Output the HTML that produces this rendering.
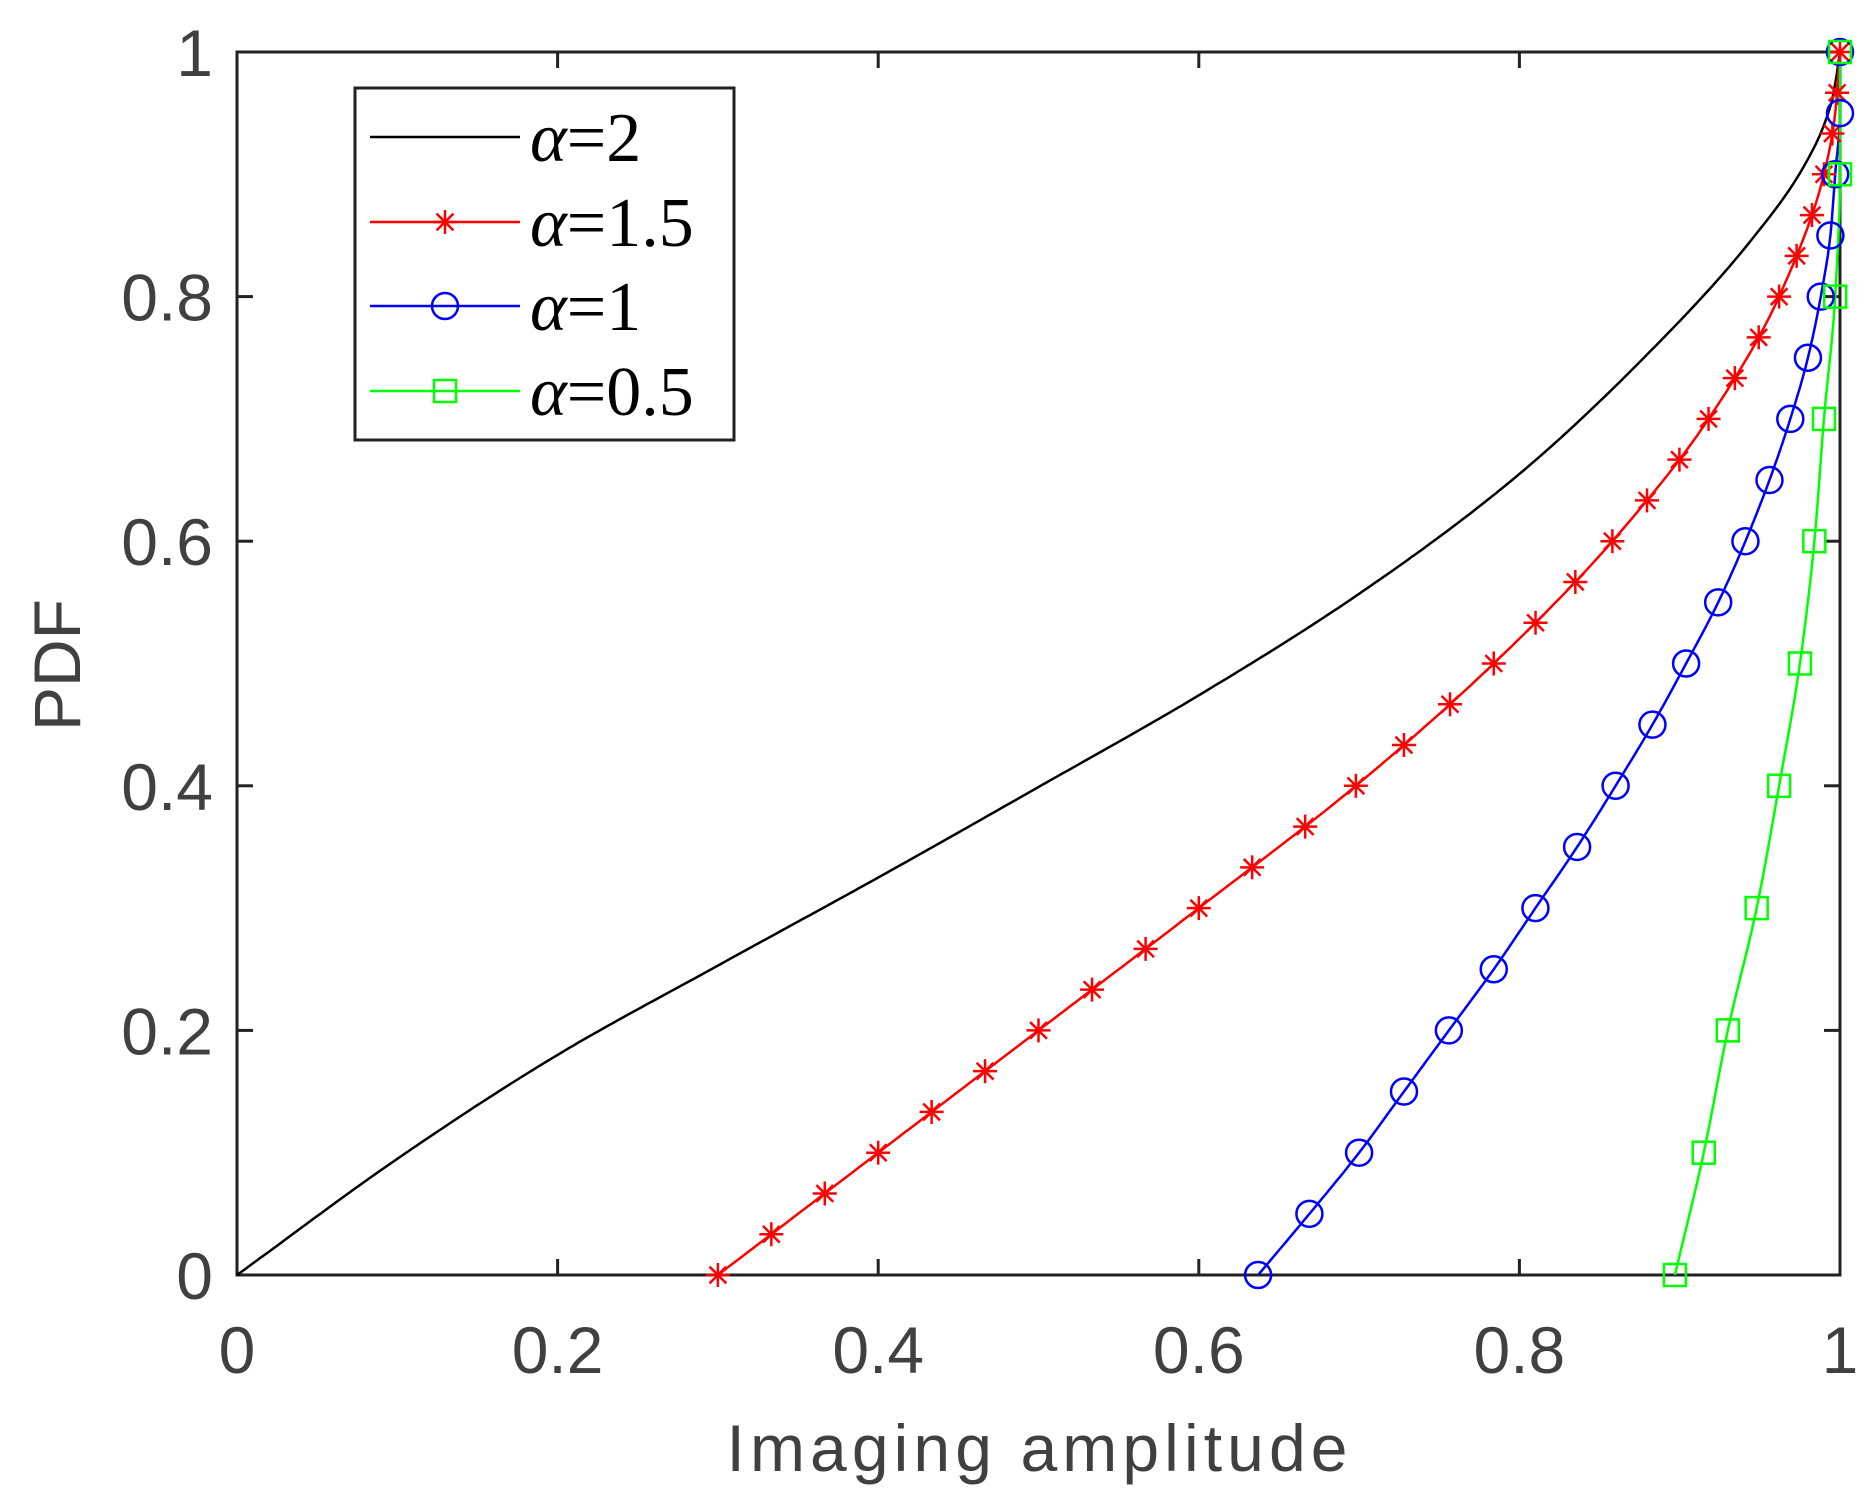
<!DOCTYPE html>
<html><head><meta charset="utf-8"><style>body{margin:0;background:#fff}svg{display:block}</style></head>
<body>
<svg id="s" width="1875" height="1511" xmlns="http://www.w3.org/2000/svg"></svg>
<script>
const X0=237,X1=1840,Y0=52,Y1=1275;
const px=x=>X0+x*(X1-X0), py=y=>Y1-y*(Y1-Y0);
let h='';
function mono(t,q){const n=t.length;let i=0;while(i<n-2&&q>t[i+1][0])i++;
 const d=[];for(let k=0;k<n-1;k++)d.push((t[k+1][1]-t[k][1])/(t[k+1][0]-t[k][0]));
 const m=[];for(let k=0;k<n;k++){if(k==0)m.push(d[0]);else if(k==n-1)m.push(d[n-2]);else m.push(d[k-1]*d[k]<=0?0:2/(1/d[k-1]+1/d[k]));}
 const x0=t[i][0],x1=t[i+1][0],hh=x1-x0,s=(q-x0)/hh;
 const h00=2*s*s*s-3*s*s+1,h10=s*s*s-2*s*s+s,h01=-2*s*s*s+3*s*s,h11=s*s*s-s*s;
 return h00*t[i][1]+h10*hh*m[i]+h01*t[i+1][1]+h11*hh*m[i+1];}
const blkX=[[0,0],[0.1,0.095],[0.2,0.18],[0.3,0.253],[0.4,0.325],[0.5,0.399],[0.6,0.474],[0.7,0.557],[0.8,0.655],[0.9,0.78],[0.95,0.855],[0.979,0.91],[0.995,0.96],[1,1]];
const red=[[0,0.3],[0.1,0.4],[0.2,0.5],[0.3,0.6],[0.4,0.698],[0.5,0.784],[0.6,0.858],[0.7,0.918],[0.8,0.962],[0.9,0.99],[0.95,0.997],[1,1]];
const blue=[[0,0.637],[0.05,0.669],[0.1,0.7],[0.15,0.728],[0.2,0.756],[0.25,0.784],[0.3,0.81],[0.35,0.836],[0.4,0.86],[0.45,0.883],[0.5,0.904],[0.55,0.924],[0.6,0.941],[0.65,0.956],[0.7,0.969],[0.75,0.98],[0.8,0.988],[0.85,0.994],[0.9,0.997],[0.95,1],[1,1]];
const green=[[0,0.897],[0.1,0.915],[0.2,0.93],[0.3,0.948],[0.4,0.962],[0.5,0.975],[0.6,0.984],[0.7,0.99],[0.8,0.997],[0.9,1],[1,1]];
h+=`<rect x="${X0}" y="${Y0}" width="${X1-X0}" height="${Y1-Y0}" fill="none" stroke="#222" stroke-width="3"/>`;
const lab='font-family="Liberation Sans, sans-serif" fill="#404040" font-size="66"';
for(let i=0;i<=5;i++){const v=i/5,x=px(v),y=py(v);const t=i==0?'0':i==5?'1':v.toFixed(1);
 h+=`<line x1="${x}" y1="${Y1}" x2="${x}" y2="${Y1-16}" stroke="#222" stroke-width="3"/><line x1="${x}" y1="${Y0}" x2="${x}" y2="${Y0+16}" stroke="#222" stroke-width="3"/>`;
 h+=`<line x1="${X0}" y1="${y}" x2="${X0+16}" y2="${y}" stroke="#222" stroke-width="3"/><line x1="${X1}" y1="${y}" x2="${X1-16}" y2="${y}" stroke="#222" stroke-width="3"/>`;
 h+=`<text x="${x}" y="1373" text-anchor="middle" ${lab}>${t}</text>`;
 h+=`<text x="213" y="${y+24}" text-anchor="end" ${lab}>${t}</text>`;}
h+=`<text x="1037" y="1471" text-anchor="middle" ${lab} font-size="72" textLength="621">Imaging amplitude</text>`;
h+=`<text transform="translate(80,665) rotate(-90)" text-anchor="middle" ${lab} font-size="72">PDF</text>`;
{let p=[];for(let i=0;i<=400;i++){const x=i/400;p.push(px(x).toFixed(1)+','+py(mono(blkX,x)).toFixed(1));}h+=`<polyline points="${p.join(' ')}" fill="none" stroke="#000" stroke-width="2.5"/>`;}
function line(tab,col,n){let p=[];for(let i=0;i<=n;i++){const y=i/n;p.push(px(Math.min(1,mono(tab,y))).toFixed(1)+','+py(y).toFixed(1));}h+=`<polyline points="${p.join(' ')}" fill="none" stroke="${col}" stroke-width="2.5"/>`;}
line(red,'#f00',300);line(blue,'#00f',300);line(green,'#0f0',300);
function star(x,y){const r=12;h+=`<g stroke="#f00" stroke-width="2.5"><line x1="${x-r}" y1="${y}" x2="${x+r}" y2="${y}"/><line x1="${x}" y1="${y-r}" x2="${x}" y2="${y+r}"/><line x1="${x-r*.7}" y1="${y-r*.7}" x2="${x+r*.7}" y2="${y+r*.7}"/><line x1="${x-r*.7}" y1="${y+r*.7}" x2="${x+r*.7}" y2="${y-r*.7}"/></g>`;}
function circ(x,y){h+=`<circle cx="${x}" cy="${y}" r="13" fill="none" stroke="#00f" stroke-width="2.5"/>`;}
function sq(x,y){h+=`<rect x="${x-11}" y="${y-11}" width="22" height="22" fill="none" stroke="#0f0" stroke-width="2.5"/>`;}
for(let i=0;i<=30;i++){const y=i/30;star(px(Math.min(1,mono(red,y))),py(y));}
for(let i=0;i<=20;i++){const y=i/20;circ(px(Math.min(1,mono(blue,y))),py(y));}
for(let i=0;i<=10;i++){const y=i/10;sq(px(Math.min(1,mono(green,y))),py(y));}
h+=`<rect x="355" y="88" width="379" height="352" fill="#fff" stroke="#222" stroke-width="3"/>`;
const rows=[['#000','2',null],['#f00','1.5',star],['#00f','1',circ],['#0f0','0.5',sq]];
const ys=[137,222,306,391];
rows.forEach((r,i)=>{const y=ys[i];h+=`<line x1="370" y1="${y}" x2="520" y2="${y}" stroke="${r[0]}" stroke-width="2.5"/>`;if(r[2])r[2](445,y);
h+=`<text x="530" y="${y+24}" font-family="Liberation Serif, serif" font-size="70" fill="#000"><tspan font-style="italic">α</tspan>=${r[1]}</text>`;});
document.getElementById('s').innerHTML=h;
</script>
</body></html>
